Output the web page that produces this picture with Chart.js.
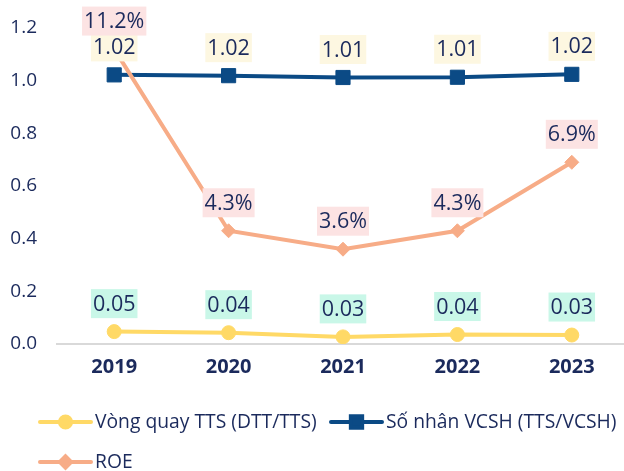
<!DOCTYPE html>
<html>
<head>
<meta charset="utf-8">
<script src="https://cdn.jsdelivr.net/npm/chart.js@4/dist/chart.umd.min.js"></script>
<style>
html,body{margin:0;padding:0;overflow:hidden;background:#fff;}
canvas{display:block;}
</style>
</head>
<body>
<canvas id="c" width="632" height="471" style="width:632px;height:471px"></canvas>
<script>
const years = ['2019', '2020', '2021', '2022', '2023'];
const vongQuay = [0.047, 0.043, 0.027, 0.036, 0.034];
const soNhan = [1.022, 1.019, 1.012, 1.013, 1.024];
const roe = [0.112, 0.043, 0.036, 0.043, 0.069];
const seriesNames = ['Vòng quay TTS (DTT/TTS)', 'Số nhân VCSH (TTS/VCSH)', 'ROE'];

const NAVY = '#1B2A5C';
const FONT = '"Open Sans", "Noto Sans", sans-serif';
const COLORS = ['#FFD966', '#0B4A85', '#F7AC87'];
const LABEL_BG = ['#C9F7E8', '#FDF7E1', '#FCE3E3'];
const fmt = [v => v.toFixed(2), v => v.toFixed(2), v => (v * 100).toFixed(1) + '%'];

const labelPlugin = {
  id: 'boxLabels',
  afterDatasetsDraw(chart) {
    const ctx = chart.ctx;
    ctx.save();
    ctx.font = '21.5px ' + FONT;
    ctx.textAlign = 'center';
    ctx.textBaseline = 'middle';
    chart.data.datasets.forEach((ds, di) => {
      const meta = chart.getDatasetMeta(di);
      meta.data.forEach((pt, i) => {
        const txt = fmt[di](ds.data[i]);
        const w = ctx.measureText(txt).width + 4;
        const h = 29;
        const cx = pt.x, cy = pt.y - 28;
        ctx.fillStyle = LABEL_BG[di];
        ctx.fillRect(cx - w / 2, cy - h / 2, w, h);
        ctx.fillStyle = NAVY;
        ctx.fillText(txt, cx, cy + 1);
      });
    });
    ctx.restore();
  }
};

const legendPlugin = {
  id: 'customLegend',
  afterDraw(chart) {
    const ctx = chart.ctx;
    const items = [
      {x: 40, y: 422, di: 0},
      {x: 331, y: 422, di: 1},
      {x: 40, y: 462, di: 2}
    ];
    ctx.save();
    items.forEach(it => {
      const ds = chart.data.datasets[it.di];
      ctx.strokeStyle = ds.borderColor;
      ctx.lineWidth = 4;
      ctx.lineCap = 'round';
      ctx.beginPath();
      ctx.moveTo(it.x, it.y);
      ctx.lineTo(it.x + 51, it.y);
      ctx.stroke();
      ctx.fillStyle = ds.pointBackgroundColor;
      ctx.strokeStyle = ds.borderColor;
      Chart.helpers.drawPoint(ctx, {pointStyle: ds.pointStyle, radius: ds.pointRadius * 0.8, rotation: 0, borderWidth: 1}, it.x + 25.5, it.y);
      ctx.fillStyle = NAVY;
      ctx.font = '19.3px ' + FONT;
      ctx.textAlign = 'left';
      ctx.textBaseline = 'middle';
      ctx.fillText(seriesNames[it.di], it.x + 55, it.y + 1);
    });
    ctx.restore();
  }
};

new Chart(document.getElementById('c'), {
  type: 'line',
  data: {
    labels: years,
    datasets: [
      {
        label: seriesNames[0], data: vongQuay, yAxisID: 'y', order: 2,
        borderColor: COLORS[0], backgroundColor: COLORS[0], pointBackgroundColor: COLORS[0],
        borderWidth: 4, pointStyle: 'circle', pointRadius: 7, pointBorderWidth: 1, tension: 0
      },
      {
        label: seriesNames[1], data: soNhan, yAxisID: 'y', order: 1,
        borderColor: COLORS[1], backgroundColor: COLORS[1], pointBackgroundColor: COLORS[1],
        borderWidth: 4, pointStyle: 'rect', pointRadius: 10, pointBorderWidth: 1, tension: 0
      },
      {
        label: seriesNames[2], data: roe, yAxisID: 'y1', order: 0,
        borderColor: COLORS[2], backgroundColor: COLORS[2], pointBackgroundColor: COLORS[2],
        borderWidth: 4, pointStyle: 'rectRot', pointRadius: 7, pointBorderWidth: 1, tension: 0
      }
    ]
  },
  options: {
    responsive: false,
    maintainAspectRatio: false,
    animation: false,
    devicePixelRatio: 1,
    layout: {autoPadding: false, padding: {top: 28, right: 3, bottom: 87, left: 0}},
    plugins: {legend: {display: false}, tooltip: {enabled: false}},
    scales: {
      x: {
        offset: true,
        grid: {display: false, drawTicks: false, offset: true},
        border: {display: true, color: '#D9D9D9', width: 2},
        ticks: {color: NAVY, font: {family: FONT, size: 20, weight: 'bold'}, padding: 11},
        afterFit: s => { s.height = 40; s.paddingLeft = 0; s.paddingRight = 0; }
      },
      y: {
        min: 0, max: 1.2,
        grid: {display: false, drawTicks: false},
        border: {display: false},
        ticks: {stepSize: 0.2, color: NAVY, font: {family: FONT, size: 19}, padding: 20,
          callback: v => Number(v).toFixed(1)},
        afterFit: s => { s.width = 57; s.paddingTop = 0; s.paddingBottom = 0; }
      },
      y1: {
        min: 0, max: 0.12, display: false
      }
    }
  },
  plugins: [labelPlugin, legendPlugin]
});
</script>
</body>
</html>
